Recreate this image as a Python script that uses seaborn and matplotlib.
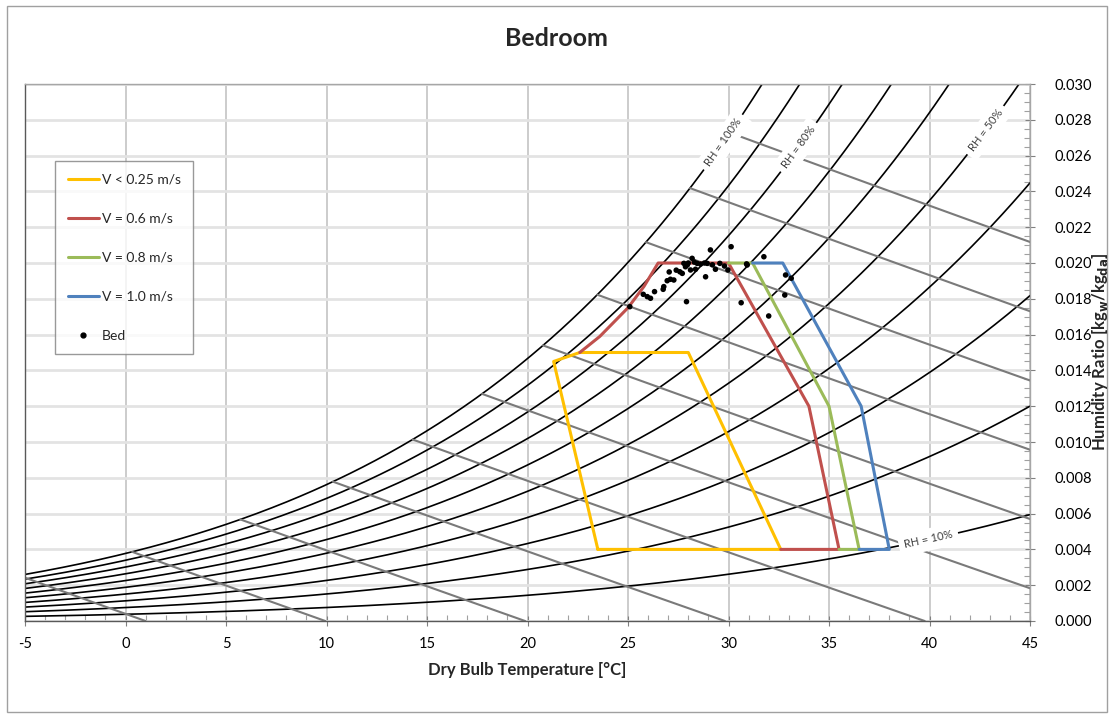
"""Bedroom psychrometric chart"""

import numpy as np
import matplotlib
matplotlib.use("Agg")
import matplotlib.pyplot as plt
import seaborn as sns
from matplotlib.patches import Rectangle
from matplotlib.lines import Line2D

# comfort zones (dry bulb degC, humidity ratio kg/kg)
zone_names = ["V < 0.25 m/s", "V = 0.6 m/s", "V = 0.8 m/s", "V = 1.0 m/s"]
zone_colors = ["#FFC000", "#C0504D", "#9BBB59", "#4F81BD"]
yellow_t = [23.5, 21.3, 22.6, 28.0, 32.6, 23.5]
yellow_w = [0.004, 0.0145, 0.0150, 0.0150, 0.004, 0.004]
red_t = [22.6, 23.6, 25.0, 25.8, 26.5, 30.0, 34.0, 35.5, 32.6]
red_w = [0.0150, 0.0159, 0.0175, 0.0187, 0.0200, 0.0200, 0.0120, 0.004, 0.004]
green_t = [30.0, 31.2, 35.0, 36.5, 35.5]
green_w = [0.0200, 0.0200, 0.0120, 0.004, 0.004]
blue_t = [31.2, 32.7, 36.6, 38.0, 36.5]
blue_w = [0.0200, 0.0200, 0.0120, 0.004, 0.004]

# measured points in the bedroom
bed_t = [25.09, 25.76, 25.96, 26.12, 26.32, 26.75, 26.78, 26.95, 27.11, 27.28,
         27.58, 27.70, 27.78, 27.86, 27.95, 28.19, 28.11, 28.36, 28.44, 28.61,
         28.86, 28.94, 29.10, 29.35, 29.57, 29.80, 29.97, 30.13, 27.91, 30.63,
         30.93, 31.76, 32.84, 33.12, 32.80, 32.00, 27.40, 28.00, 28.80, 29.20,
         27.05, 30.90, 28.30]
bed_w = [0.01756, 0.01825, 0.01812, 0.01803, 0.01840, 0.01853, 0.01868, 0.01901,
         0.01909, 0.01905, 0.01951, 0.01942, 0.01998, 0.01979, 0.01989, 0.02026,
         0.01961, 0.01965, 0.01998, 0.01994, 0.01923, 0.01998, 0.02073, 0.01965,
         0.01998, 0.01983, 0.01961, 0.02091, 0.01784, 0.01778, 0.01989, 0.02035,
         0.01933, 0.01915, 0.01821, 0.01704, 0.01960, 0.02000, 0.02000, 0.01990,
         0.01950, 0.01995, 0.02005]

# chart grid: relative humidity curves and enthalpy lines (kJ/kg)
rh_levels = [0.1, 0.2, 0.3, 0.4, 0.5, 0.6, 0.7, 0.8, 0.9, 1.0]
h_levels = [1, 10, 20, 30, 40, 50, 60, 70, 80, 90, 100]
rh_labels = {1.0: 29.75, 0.8: 33.5, 0.5: 42.8, 0.1: 39.95}

P = 101.325


def w_at(t, rh):
    pws = 0.61094 * np.exp(17.625 * t / (t + 243.04))
    return 0.622 * rh * pws / (P - rh * pws)


sns.set_theme(style="white")
plt.rcParams["font.family"] = ["Lato", "DejaVu Sans"]
plt.rcParams["axes.unicode_minus"] = False

fig = plt.figure(figsize=(11.12, 7.18), dpi=100)
ax = fig.add_axes([25 / 1112, 1 - 621 / 718, 1005 / 1112, 537 / 718])
ax.set_xlim(-5, 45)
ax.set_ylim(0, 0.030)

tt = np.linspace(-5, 45, 400)
for rh in rh_levels:
    ax.plot(tt, w_at(tt, rh), color="black", lw=1.2, zorder=2)

# enthalpy lines from the saturation curve down to W = 0
tg = np.linspace(-30, 60, 4000)
hsat = 1.006 * tg + w_at(tg, 1.0) * (2501 + 1.86 * tg)
for h in h_levels:
    t0 = np.interp(h, hsat, tg)
    t1 = h / 1.006
    tl = np.linspace(t0, t1, 50)
    ax.plot(tl, (h - 1.006 * tl) / (2501 + 1.86 * tl), color="#7A7A7A", lw=1.5, zorder=2)

# comfort zones
zones = [(yellow_t, yellow_w), (red_t, red_w), (green_t, green_w), (blue_t, blue_w)]
for (zt, zw), c in zip(zones, zone_colors):
    sns.lineplot(x=zt, y=zw, sort=False, estimator=None, color=c, lw=2.2, ax=ax, zorder=4)

sns.scatterplot(x=bed_t, y=bed_w, color="black", s=16, edgecolor="none", ax=ax, zorder=5)

# RH labels sitting on the curves
fig.canvas.draw()
for rh, t in rh_labels.items():
    p0 = ax.transData.transform((t - 0.3, w_at(t - 0.3, rh)))
    p1 = ax.transData.transform((t + 0.3, w_at(t + 0.3, rh)))
    ang = np.degrees(np.arctan2(p1[1] - p0[1], p1[0] - p0[0]))
    ax.text(t, w_at(t, rh), "RH = %d%%" % round(rh * 100), rotation=ang,
            rotation_mode="anchor", ha="center", va="center", fontsize=8,
            color="#404040", zorder=3,
            bbox=dict(facecolor="white", edgecolor="none", pad=4))

# axes styling
ax.set_xticks(np.arange(-5, 46, 5))
ax.set_xticks(np.arange(-5, 46, 1), minor=True)
ax.set_yticks(np.arange(0, 0.0301, 0.002))
ax.set_yticks(np.arange(0, 0.0301, 0.0005), minor=True)
ax.yaxis.tick_right()
ax.set_yticklabels(["%.3f" % v for v in np.arange(0, 0.0301, 0.002)])
ax.grid(True, which="major", axis="x", color="#C8C8C8", lw=1.3, zorder=0)
ax.grid(True, which="major", axis="y", color="#E3E3E3", lw=2, zorder=0)
ax.set_axisbelow(True)
ax.tick_params(which="major", direction="inout", length=7, width=0.8, color="#808080",
               labelsize=10.5, labelcolor="black", bottom=True, right=True, pad=8)
ax.tick_params(axis="y", which="major", pad=14)
ax.tick_params(which="minor", direction="in", length=4, width=0.8, color="#A0A0A0",
               bottom=True, right=True)
for side in ["left", "bottom"]:
    ax.spines[side].set_color("#595959")
for side in ["top", "right"]:
    ax.spines[side].set_color("#A6A6A6")
for s in ax.spines.values():
    s.set_linewidth(1.0)

ax.set_xlabel("Dry Bulb Temperature [°C]", fontsize=12, fontweight="bold", labelpad=8)
fig.text(1100 / 1112, 1 - 352 / 718,
         r"Humidity Ratio [kg$_{\mathbf{w}}$/kg$_{\mathbf{da}}$]", fontsize=12,
         fontweight="bold", rotation=90, ha="center", va="center")
fig.text(556 / 1112, 1 - 38 / 718, "Bedroom", ha="center", va="center", fontsize=18,
         fontweight="bold")

handles = [Line2D([], [], color=c, lw=2.2) for c in zone_colors]
handles.append(Line2D([], [], color="black", marker="o", ms=3.5, ls="none"))
leg = ax.legend(handles, zone_names + ["Bed"], loc="upper left",
                bbox_to_anchor=(55 / 1112, 1 - 161 / 718), bbox_transform=fig.transFigure,
                borderaxespad=0, fontsize=10, frameon=True, fancybox=False,
                labelspacing=1.95, handlelength=2.3, handletextpad=0.15,
                borderpad=0.9)
leg.get_frame().set_edgecolor("#808080")
leg.get_frame().set_linewidth(1.0)
leg.set_zorder(10)

fig.patches.append(Rectangle((7 / 1112, 6 / 718), 1100 / 1112, 706 / 718,
                             transform=fig.transFigure, fill=False,
                             edgecolor="#A0A0A0", lw=1.0))

fig.savefig("out.png", dpi=100)
